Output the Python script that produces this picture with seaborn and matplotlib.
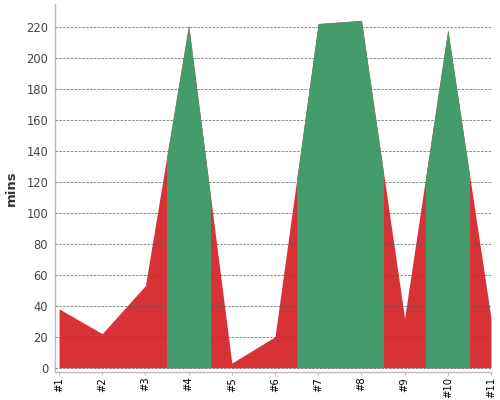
import matplotlib
matplotlib.use("Agg")
import matplotlib.pyplot as plt
import seaborn as sns
import pandas as pd

# Data
labels = ["#1", "#2", "#3", "#4", "#5", "#6", "#7", "#8", "#9", "#10", "#11"]
minutes = [38, 22, 53, 221, 3, 20, 222, 224, 32, 218, 32]
green_from = [3.5, 6.5, 9.5]
green_to = [4.5, 8.5, 10.5]

red = "#d73337"
green = "#449b6c"

df = pd.DataFrame({"pos": range(1, len(labels) + 1), "mins": minutes})

sns.set_theme(style="white")
plt.rcParams["font.family"] = ["DejaVu Sans"]

fig = plt.figure(figsize=(5, 4), dpi=100)
ax = fig.add_axes([0.11, 0.069, 0.872, 0.921])

# invisible seaborn line sets up the axes from the data
sns.lineplot(data=df, x="pos", y="mins", ax=ax, linewidth=0, color=red)

ax.fill_between(df["pos"], 0, df["mins"], color=red, linewidth=0, zorder=2)
for a, b in zip(green_from, green_to):
    span = ax.axvspan(a, b, alpha=0)
    g = ax.fill_between(df["pos"], 0, df["mins"], color=green, linewidth=0, zorder=3)
    g.set_clip_path(span)

ax.set_xlim(0.907, 11)
ax.set_ylim(-3, 234.6)
ax.set_yticks(range(0, 221, 20))
ax.set_xticks(df["pos"])
ax.set_xticklabels(labels, rotation=90, fontsize=7.2, color="black")

ax.yaxis.grid(True, linestyle=(0, (3, 1.6)), color="#555555", linewidth=0.6, alpha=0.8)
ax.set_axisbelow(False)
for line in ax.get_ygridlines():
    line.set_zorder(4)

for side in ["top", "right"]:
    ax.spines[side].set_visible(False)
for side in ["left", "bottom"]:
    ax.spines[side].set_color("#bbbbbb")
    ax.spines[side].set_linewidth(1)

ax.tick_params(axis="y", length=2.2, width=0.8, color="#bbbbbb", pad=2.7, labelsize=8.3, labelcolor="#444444")
ax.tick_params(axis="x", length=2.2, width=0.8, color="#bbbbbb", pad=1.0, bottom=True)

ax.set_xlabel("")
ax.set_ylabel("mins", fontsize=9.5, fontweight="bold", color="#333333", labelpad=6)

fig.savefig("out.png", dpi=100)
